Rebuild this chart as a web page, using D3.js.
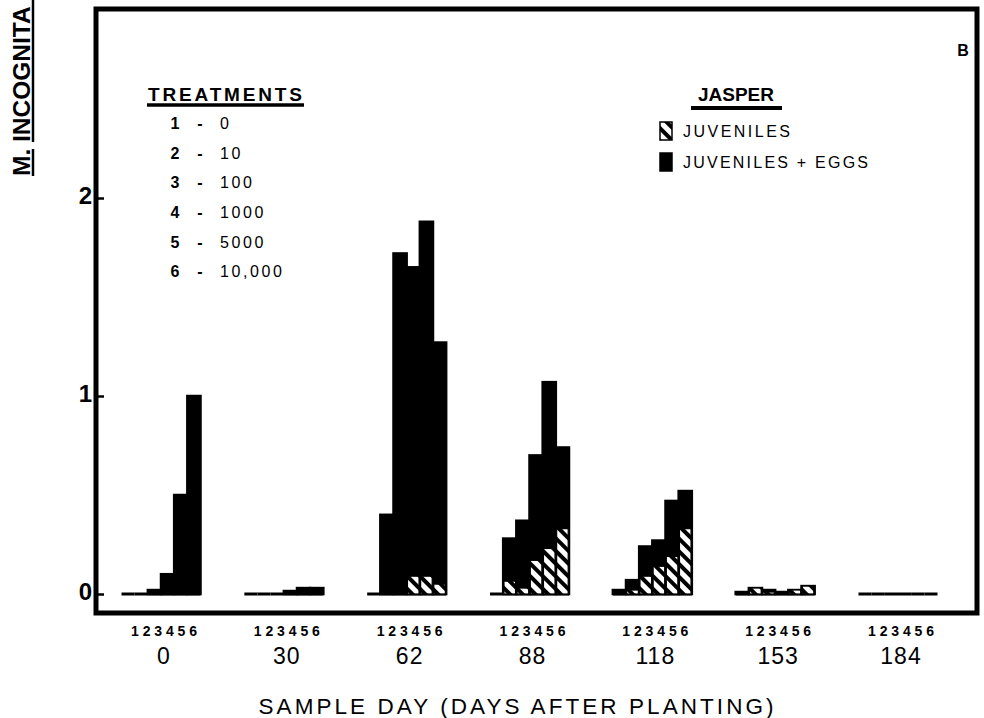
<!DOCTYPE html>
<html>
<head>
<meta charset="utf-8">
<script src="https://cdn.jsdelivr.net/npm/d3@7/dist/d3.min.js"></script>
<style>
  html, body { margin: 0; padding: 0; background: #fff; }
  svg { display: block; font-family: "Liberation Sans", Arial, Helvetica, sans-serif; }
</style>
</head>
<body>
<svg id="chart" width="984" height="718"></svg>
<script>
// ---- data ----
const days = ["0", "30", "62", "88", "118", "153", "184"];
const treatments = ["1", "2", "3", "4", "5", "6"];
const treatmentRates = ["0", "10", "100", "1000", "5000", "10,000"];
// juveniles + eggs (total bar height)
const totalEggsJuv = [
  [0, 0, 0.02, 0.10, 0.50, 1.00],
  [0, 0, 0, 0.015, 0.03, 0.03],
  [0, 0.40, 1.72, 1.65, 1.88, 1.27],
  [0, 0.28, 0.37, 0.70, 1.07, 0.74],
  [0.02, 0.07, 0.24, 0.27, 0.47, 0.52],
  [0.01, 0.03, 0.02, 0.01, 0.02, 0.04],
  [0, 0, 0, 0, 0, 0]
];
// juveniles only (hatched part)
const juveniles = [
  [0, 0, 0, 0, 0, 0],
  [0, 0, 0, 0, 0, 0],
  [0, 0, 0, 0.09, 0.09, 0.05],
  [0, 0.065, 0.03, 0.17, 0.23, 0.33],
  [0, 0.02, 0.09, 0.14, 0.19, 0.33],
  [0, 0.03, 0.01, 0, 0.02, 0.04],
  [0, 0, 0, 0, 0, 0]
];
const yTicks = [0, 1, 2];

// ---- layout ----
const svg = d3.select("#chart");
const frame = { left: 96, top: 9, right: 977, bottom: 613 };

const y = d3.scaleLinear().domain([0, 2]).range([594, 198]);
const xGroup = d3.scalePoint().domain(days).range([161, 898]);
const xBar = d3.scaleBand().domain(treatments).range([-39.5, 39.5]);

// hatch pattern
const defs = svg.append("defs");
const pat = defs.append("pattern")
  .attr("id", "hatch")
  .attr("patternUnits", "userSpaceOnUse")
  .attr("width", 9).attr("height", 9)
  .attr("patternTransform", "rotate(-45)");
pat.append("rect").attr("width", 9).attr("height", 9).attr("fill", "#000");
pat.append("rect").attr("x", 0).attr("width", 5).attr("height", 9).attr("fill", "#fff");

// bars
const groups = svg.append("g").selectAll("g")
  .data(days)
  .join("g")
  .attr("transform", d => `translate(${xGroup(d)},0)`);

groups.each(function (day, gi) {
  const g = d3.select(this);
  const rows = treatments.map((t, i) => ({ t, total: totalEggsJuv[gi][i], juv: juveniles[gi][i] }));
  // zero line under each bar
  g.selectAll("line.base").data(rows).join("line")
    .attr("class", "base")
    .attr("x1", d => xBar(d.t))
    .attr("x2", d => xBar(d.t) + xBar.bandwidth())
    .attr("y1", y(0)).attr("y2", y(0))
    .attr("stroke", "#000").attr("stroke-width", 3);
  g.selectAll("rect.total").data(rows.filter(d => d.total > 0)).join("rect")
    .attr("class", "total")
    .attr("x", d => xBar(d.t))
    .attr("width", xBar.bandwidth())
    .attr("y", d => y(d.total))
    .attr("height", d => y(0) - y(d.total))
    .attr("fill", "#000")
    .attr("stroke", "#000")
    .attr("stroke-width", 2.5);
  g.selectAll("rect.juv").data(rows.filter(d => d.juv > 0)).join("rect")
    .attr("class", "juv")
    .attr("x", d => xBar(d.t) + 0.8)
    .attr("width", xBar.bandwidth() - 1.6)
    .attr("y", d => y(d.juv))
    .attr("height", d => y(0) - y(d.juv))
    .attr("fill", "url(#hatch)")
    .attr("stroke", "#000")
    .attr("stroke-width", 1.2);
  // treatment numbers under each group
  g.append("text")
    .attr("x", 3).attr("y", 632)
    .attr("text-anchor", "middle")
    .attr("dominant-baseline", "middle")
    .attr("font-size", 14).attr("font-weight", "bold")
    .attr("textLength", 66).attr("lengthAdjust", "spacing")
    .text(treatments.join(""));
  g.append("text")
    .attr("x", 3).attr("y", 658)
    .attr("text-anchor", "middle")
    .attr("dominant-baseline", "middle")
    .attr("font-size", 23)
    .attr("letter-spacing", 1)
    .text(day);
});

// frame
svg.append("rect")
  .attr("x", frame.left).attr("y", frame.top)
  .attr("width", frame.right - frame.left)
  .attr("height", frame.bottom - frame.top)
  .attr("fill", "none").attr("stroke", "#000").attr("stroke-width", 5);

// y axis (ticks inward)
const yAxis = d3.axisRight(y).tickValues(yTicks).tickSize(8).tickFormat("");
const ya = svg.append("g").attr("transform", `translate(${frame.left},0)`).call(yAxis);
ya.select(".domain").remove();
ya.selectAll("line").attr("stroke-width", 2.5);
svg.append("g").selectAll("text").data(yTicks).join("text")
  .attr("x", 92).attr("y", d => y(d))
  .attr("text-anchor", "end")
  .attr("dominant-baseline", "middle")
  .attr("font-size", 24).attr("font-weight", "bold")
  .text(d => d);

// y axis title
const yt = svg.append("g").attr("transform", "translate(30,176) rotate(-90)");
yt.append("text")
  .attr("x", 0).attr("y", 0)
  .attr("font-size", 24.5).attr("font-weight", "bold")
  .text("M. INCOGNITA");
yt.append("line").attr("x1", 0).attr("x2", 27).attr("y1", 3).attr("y2", 3)
  .attr("stroke", "#000").attr("stroke-width", 2.5);
yt.append("line").attr("x1", 34).attr("x2", 176).attr("y1", 3).attr("y2", 3)
  .attr("stroke", "#000").attr("stroke-width", 2.5);

// x title
svg.append("text")
  .attr("x", 516).attr("y", 708)
  .attr("text-anchor", "middle")
  .attr("dominant-baseline", "middle")
  .attr("font-size", 22.5)
  .attr("textLength", 515).attr("lengthAdjust", "spacing")
  .text("SAMPLE DAY (DAYS AFTER PLANTING)");

// panel letter
svg.append("text").attr("x", 963).attr("y", 52)
  .attr("text-anchor", "middle").attr("dominant-baseline", "middle")
  .attr("font-size", 16).attr("font-weight", "bold").text("B");

// treatments legend
svg.append("text").attr("x", 148).attr("y", 101)
  .attr("font-size", 19).attr("font-weight", "bold")
  .attr("textLength", 154).attr("lengthAdjust", "spacing")
  .text("TREATMENTS");
svg.append("line").attr("x1", 147).attr("x2", 304).attr("y1", 105).attr("y2", 105)
  .attr("stroke", "#000").attr("stroke-width", 3.5);
const tl = svg.append("g").selectAll("g").data(treatments).join("g")
  .attr("transform", (d, i) => `translate(0,${125 + i * 29.6})`);
tl.append("text").attr("x", 175).attr("text-anchor", "middle")
  .attr("dominant-baseline", "middle")
  .attr("font-size", 16).attr("font-weight", "bold").text(d => d);
tl.append("text").attr("x", 200).attr("text-anchor", "middle")
  .attr("dominant-baseline", "middle")
  .attr("font-size", 16).attr("font-weight", "bold").text("-");
tl.append("text").attr("x", 220)
  .attr("dominant-baseline", "middle")
  .attr("font-size", 16).attr("letter-spacing", 2.6)
  .text((d, i) => treatmentRates[i]);

// Jasper legend
svg.append("text").attr("x", 736).attr("y", 101)
  .attr("text-anchor", "middle")
  .attr("font-size", 19).attr("font-weight", "bold")
  .text("JASPER");
svg.append("line").attr("x1", 691).attr("x2", 782).attr("y1", 108).attr("y2", 108)
  .attr("stroke", "#000").attr("stroke-width", 4);
const legendItems = [
  { label: "JUVENILES", fill: "url(#hatch)", y: 122, w: 107 },
  { label: "JUVENILES + EGGS", fill: "#000", y: 153, w: 185 }
];
const li = svg.append("g").selectAll("g").data(legendItems).join("g");
li.append("rect").attr("x", 660).attr("y", d => d.y)
  .attr("width", 12).attr("height", 18)
  .attr("fill", d => d.fill).attr("stroke", "#000").attr("stroke-width", 1.5);
li.append("text").attr("x", 683).attr("y", d => d.y + 11)
  .attr("dominant-baseline", "middle")
  .attr("font-size", 16)
  .attr("textLength", d => d.w).attr("lengthAdjust", "spacing")
  .text(d => d.label);
</script>
</body>
</html>
